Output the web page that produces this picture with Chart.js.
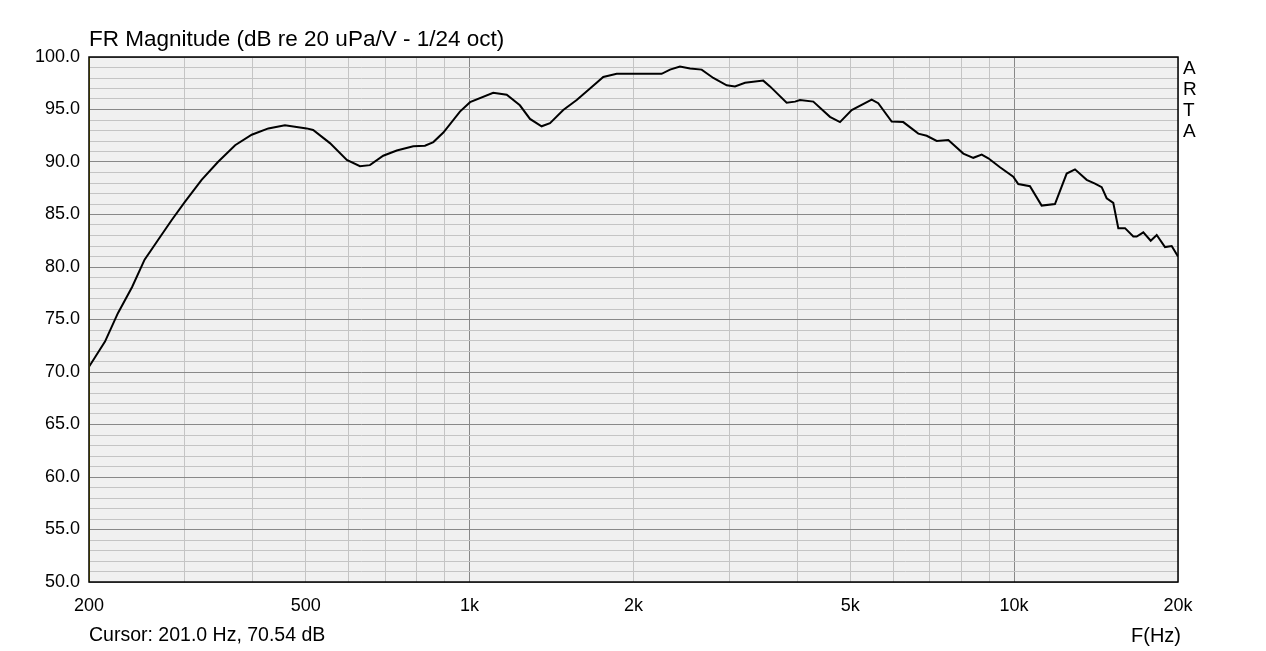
<!DOCTYPE html>
<html>
<head>
<meta charset="utf-8">
<script src="https://cdn.jsdelivr.net/npm/chart.js@4/dist/chart.umd.min.js"></script>
<style>
  body { margin: 0; background: #fff; }
  #wrap { width: 1266px; height: 651px; }
</style>
</head>
<body>
<div id="wrap"><canvas id="frChart" width="1266" height="651"></canvas></div>
<script>
// datos (Hz, dB)
const freqs = [200, 214, 226, 240, 253, 268, 284, 300, 322, 345, 371, 398, 427, 458, 502, 516, 554, 595, 629, 656, 694, 735, 788, 828, 858, 895, 960, 1002, 1105, 1170, 1237, 1291, 1356, 1405, 1486, 1573, 1664, 1760, 1863, 2253, 2334, 2434, 2540, 2668, 2803, 2966, 3072, 3205, 3462, 3562, 3822, 3960, 4044, 4278, 4590, 4789, 5032, 5476, 5630, 5959, 6259, 6670, 6911, 7210, 7572, 8068, 8416, 8720, 8968, 9421, 9965, 10178, 10694, 11236, 11886, 12490, 12937, 13592, 14079, 14484, 14793, 15212, 15538, 15985, 16556, 16796, 17272, 17821, 18278, 18930, 19474, 20000];
const dbValues = [70.5, 72.9, 75.6, 78.1, 80.7, 82.6, 84.5, 86.2, 88.3, 90.0, 91.6, 92.6, 93.2, 93.5, 93.2, 93.05, 91.8, 90.2, 89.6, 89.7, 90.6, 91.1, 91.5, 91.55, 91.9, 92.8, 94.8, 95.7, 96.6, 96.4, 95.4, 94.1, 93.4, 93.7, 94.95, 95.9, 97.0, 98.1, 98.4, 98.4, 98.8, 99.1, 98.9, 98.8, 98.0, 97.3, 97.2, 97.55, 97.75, 97.2, 95.65, 95.75, 95.9, 95.75, 94.3, 93.8, 94.95, 95.95, 95.6, 93.85, 93.8, 92.7, 92.5, 92.0, 92.1, 90.8, 90.4, 90.7, 90.35, 89.5, 88.6, 87.9, 87.7, 85.85, 86.0, 88.9, 89.3, 88.3, 87.95, 87.6, 86.55, 86.1, 83.7, 83.7, 82.9, 82.9, 83.3, 82.5, 83.05, 81.9, 82.0, 81.0];

const xGridTicks = [200, 300, 400, 500, 600, 700, 800, 900, 1000, 2000, 3000, 4000, 5000, 6000, 7000, 8000, 9000, 10000, 20000];
const xTickLabels = { 200: '200', 500: '500', 1000: '1k', 2000: '2k', 5000: '5k', 10000: '10k', 20000: '20k' };
const yMin = 50, yMax = 100;

const titulo = 'FR Magnitude (dB re 20 uPa/V - 1/24 oct)';
const cursorTexto = 'Cursor: 201.0 Hz, 70.54 dB';
const cursorFreq = 201;

const FUENTE = '"Liberation Sans", Arial, sans-serif';

const puntos = freqs.map((f, i) => ({ x: f, y: dbValues[i] }));

const artaPlugin = {
    id: 'arta',
    beforeDraw(chart) {
        const { ctx, chartArea: a } = chart;
        ctx.save();
        ctx.fillStyle = '#f0f0f0';
        ctx.fillRect(a.left, a.top, a.right - a.left, a.bottom - a.top);
        ctx.restore();
    },
    afterDraw(chart) {
        const { ctx, chartArea: a } = chart;
        ctx.save();
        // cursor
        const cx = chart.scales.x.getPixelForValue(cursorFreq);
        ctx.strokeStyle = '#e0d000';
        ctx.lineWidth = 1;
        ctx.beginPath();
        ctx.moveTo(Math.round(cx) - 0.5, a.top);
        ctx.lineTo(Math.round(cx) - 0.5, a.bottom);
        ctx.stroke();
        // borde
        ctx.strokeStyle = '#000';
        ctx.lineWidth = 1.5;
        ctx.strokeRect(a.left, a.top, a.right - a.left, a.bottom - a.top);
        // textos
        ctx.fillStyle = '#000';
        ctx.font = '22.5px ' + FUENTE;
        ctx.textBaseline = 'middle';
        ctx.textAlign = 'left';
        ctx.fillText(titulo, a.left, 40);
        ctx.font = '19.5px ' + FUENTE;
        ctx.fillText(cursorTexto, a.left, 636);
        ctx.textAlign = 'right';
        ctx.font = '20px ' + FUENTE;
        ctx.fillText('F(Hz)', 1181, 636);
        ctx.font = '19px ' + FUENTE;
        ctx.textAlign = 'left';
        ['A', 'R', 'T', 'A'].forEach((l, i) => ctx.fillText(l, 1183, 69 + i * 21));
        ctx.restore();
    }
};

new Chart(document.getElementById('frChart'), {
    type: 'line',
    data: {
        datasets: [{
            data: puntos,
            borderColor: '#000',
            borderWidth: 2,
            pointRadius: 0,
            tension: 0,
            fill: false
        }]
    },
    options: {
        responsive: false,
        animation: false,
        layout: { padding: { left: 0, right: 88, top: 57, bottom: 0 } },
        plugins: { legend: { display: false }, tooltip: { enabled: false } },
        scales: {
            x: {
                type: 'logarithmic',
                min: 200,
                max: 20000,
                afterBuildTicks: function (scale) {
                    scale.ticks = xGridTicks.map(v => ({ value: v }));
                },
                afterFit: function (scale) { scale.height = 69; },
                ticks: {
                    autoSkip: false,
                    maxRotation: 0,
                    padding: 13,
                    color: '#000',
                    font: { family: FUENTE, size: 18 },
                    callback: function (value) { return xTickLabels[value] || ''; }
                },
                grid: {
                    drawTicks: false,
                    lineWidth: 1,
                    color: function (c) {
                        const v = c.tick && c.tick.value;
                        return (v === 1000 || v === 10000) ? '#888888' : '#c4c4c4';
                    }
                },
                border: { display: false }
            },
            y: {
                min: yMin,
                max: yMax,
                afterFit: function (scale) { scale.width = 89; },
                ticks: {
                    stepSize: 1,
                    autoSkip: false,
                    padding: 9,
                    color: '#000',
                    font: { family: FUENTE, size: 18 },
                    callback: function (value) { return value % 5 === 0 ? value.toFixed(1) : ''; }
                },
                grid: {
                    drawTicks: false,
                    lineWidth: 1,
                    color: function (c) {
                        const v = c.tick && c.tick.value;
                        return v % 5 === 0 ? '#888888' : '#c4c4c4';
                    }
                },
                border: { display: false }
            }
        }
    },
    plugins: [artaPlugin]
});
</script>
</body>
</html>
